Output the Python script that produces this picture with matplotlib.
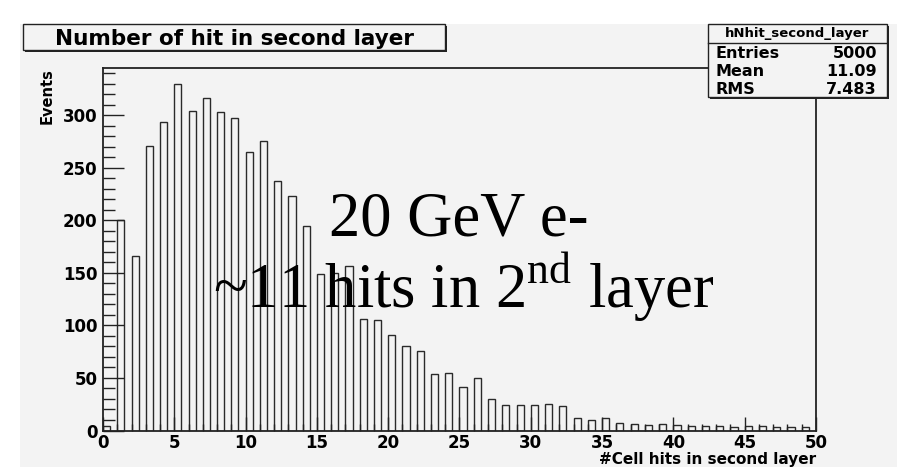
import matplotlib
matplotlib.use('Agg')
import matplotlib.pyplot as plt
from matplotlib.patches import Rectangle

# histogram contents, one bin per integer number of hits
hits = list(range(0, 50))
counts = [4, 200, 166, 271, 294, 330, 304, 316, 303, 297,
          265, 276, 237, 223, 195, 149, 150, 157, 106, 105,
          91, 80, 76, 54, 55, 41, 50, 30, 24, 24,
          24, 25, 23, 12, 10, 12, 7, 6, 5, 6,
          5, 4, 4, 4, 3, 4, 4, 3, 3, 3]

title = 'Number of hit in second layer'
hist_name = 'hNhit_second_layer'
stat_names = ['Entries', 'Mean', 'RMS']
stat_values = ['5000', '11.09', '7.483']
xlabel = '#Cell hits in second layer'
ylabel = 'Events'
note1 = '20 GeV e-'
note2 = '~11 hits in 2$^{\\mathrm{nd}}$ layer'

W, H = 903, 470
plt.rcParams['font.family'] = 'DejaVu Sans'
plt.rcParams['mathtext.fontset'] = 'custom'
plt.rcParams['mathtext.rm'] = 'Liberation Serif'

def fx(x):
    return x / W

def fy(y):
    return 1 - y / H

gray = '#f3f3f3'
fig = plt.figure(figsize=(W / 100, H / 100), dpi=100, facecolor='white')

# canvas
fig.patches.append(Rectangle((fx(20), fy(467)), fx(897) - fx(20), fy(24) - fy(467),
                             transform=fig.transFigure, facecolor=gray,
                             edgecolor='none', zorder=-5))

ax = fig.add_axes([fx(103), fy(430.5), fx(816) - fx(103), fy(68) - fy(430.5)])
ax.set_zorder(1)
ax.set_facecolor(gray)
ax.bar(hits, counts, width=0.5, align='edge', facecolor='none',
       edgecolor='#2a2a2a', linewidth=1.0)
ax.set_xlim(0, 50)
ax.set_ylim(0, 345)
ax.set_xticks(range(0, 51, 5))
ax.set_xticks(range(0, 51), minor=True)
ax.set_yticks(range(0, 301, 50))
ax.set_yticks(range(0, 341, 10), minor=True)
ax.tick_params(axis='both', which='both', direction='in', top=False, right=False,
               color='#222222')
ax.tick_params(axis='y', which='major', length=15, width=1, labelsize=12, pad=4)
ax.tick_params(axis='y', which='minor', length=8.4, width=1)
ax.tick_params(axis='x', which='major', length=10, width=1, labelsize=12, pad=2.5)
ax.tick_params(axis='x', which='minor', length=5, width=1)
for lbl in ax.get_xticklabels() + ax.get_yticklabels():
    lbl.set_fontweight('bold')
for s in ax.spines.values():
    s.set_linewidth(1.3)
    s.set_color('#222222')

fig.text(fx(47), fy(68), ylabel, rotation=90, ha='center', va='top',
         fontsize=10.5, weight='bold')
fig.text(fx(816), fy(464), xlabel, ha='right', va='baseline',
         fontsize=11, weight='bold')

# boxes with a small shadow, like the ROOT pave
def box(x0, y0, x1, y1):
    fig.patches.append(Rectangle((fx(x0 + 2), fy(y1 + 2)), fx(x1) - fx(x0), fy(y0) - fy(y1),
                                 transform=fig.transFigure, facecolor='#222222',
                                 edgecolor='none', zorder=5))
    fig.patches.append(Rectangle((fx(x0), fy(y1)), fx(x1) - fx(x0), fy(y0) - fy(y1),
                                 transform=fig.transFigure, facecolor=gray,
                                 edgecolor='#222222', linewidth=1.0, zorder=6))

box(23, 24, 445, 50)
fig.text(fx(235), fy(45), title, ha='center', va='baseline', fontsize=15.5,
         weight='bold', zorder=7)

# stats box
box(708, 24, 887, 97)
fig.lines.append(plt.Line2D([fx(708), fx(887)], [fy(42.7), fy(42.7)],
                            transform=fig.transFigure, color='#222222', lw=1.0, zorder=7))
fig.text(fx(797), fy(37), hist_name, ha='center', va='baseline', fontsize=9.5,
         weight='bold', zorder=7)
for i, (n, v) in enumerate(zip(stat_names, stat_values)):
    yb = 58 + 18 * i
    fig.text(fx(716), fy(yb), n, ha='left', va='baseline', fontsize=11.5,
             weight='bold', zorder=7)
    fig.text(fx(877), fy(yb), v, ha='right', va='baseline', fontsize=11.5,
             weight='bold', zorder=7)

# overlay annotation
fig.text(fx(329), fy(235), note1, ha='left', va='baseline', fontsize=45,
         family='Liberation Serif', zorder=8)
fig.text(fx(213), fy(308), note2, ha='left', va='baseline', fontsize=45,
         family='Liberation Serif', zorder=8)

fig.savefig('out.png', dpi=100, facecolor=fig.get_facecolor())
